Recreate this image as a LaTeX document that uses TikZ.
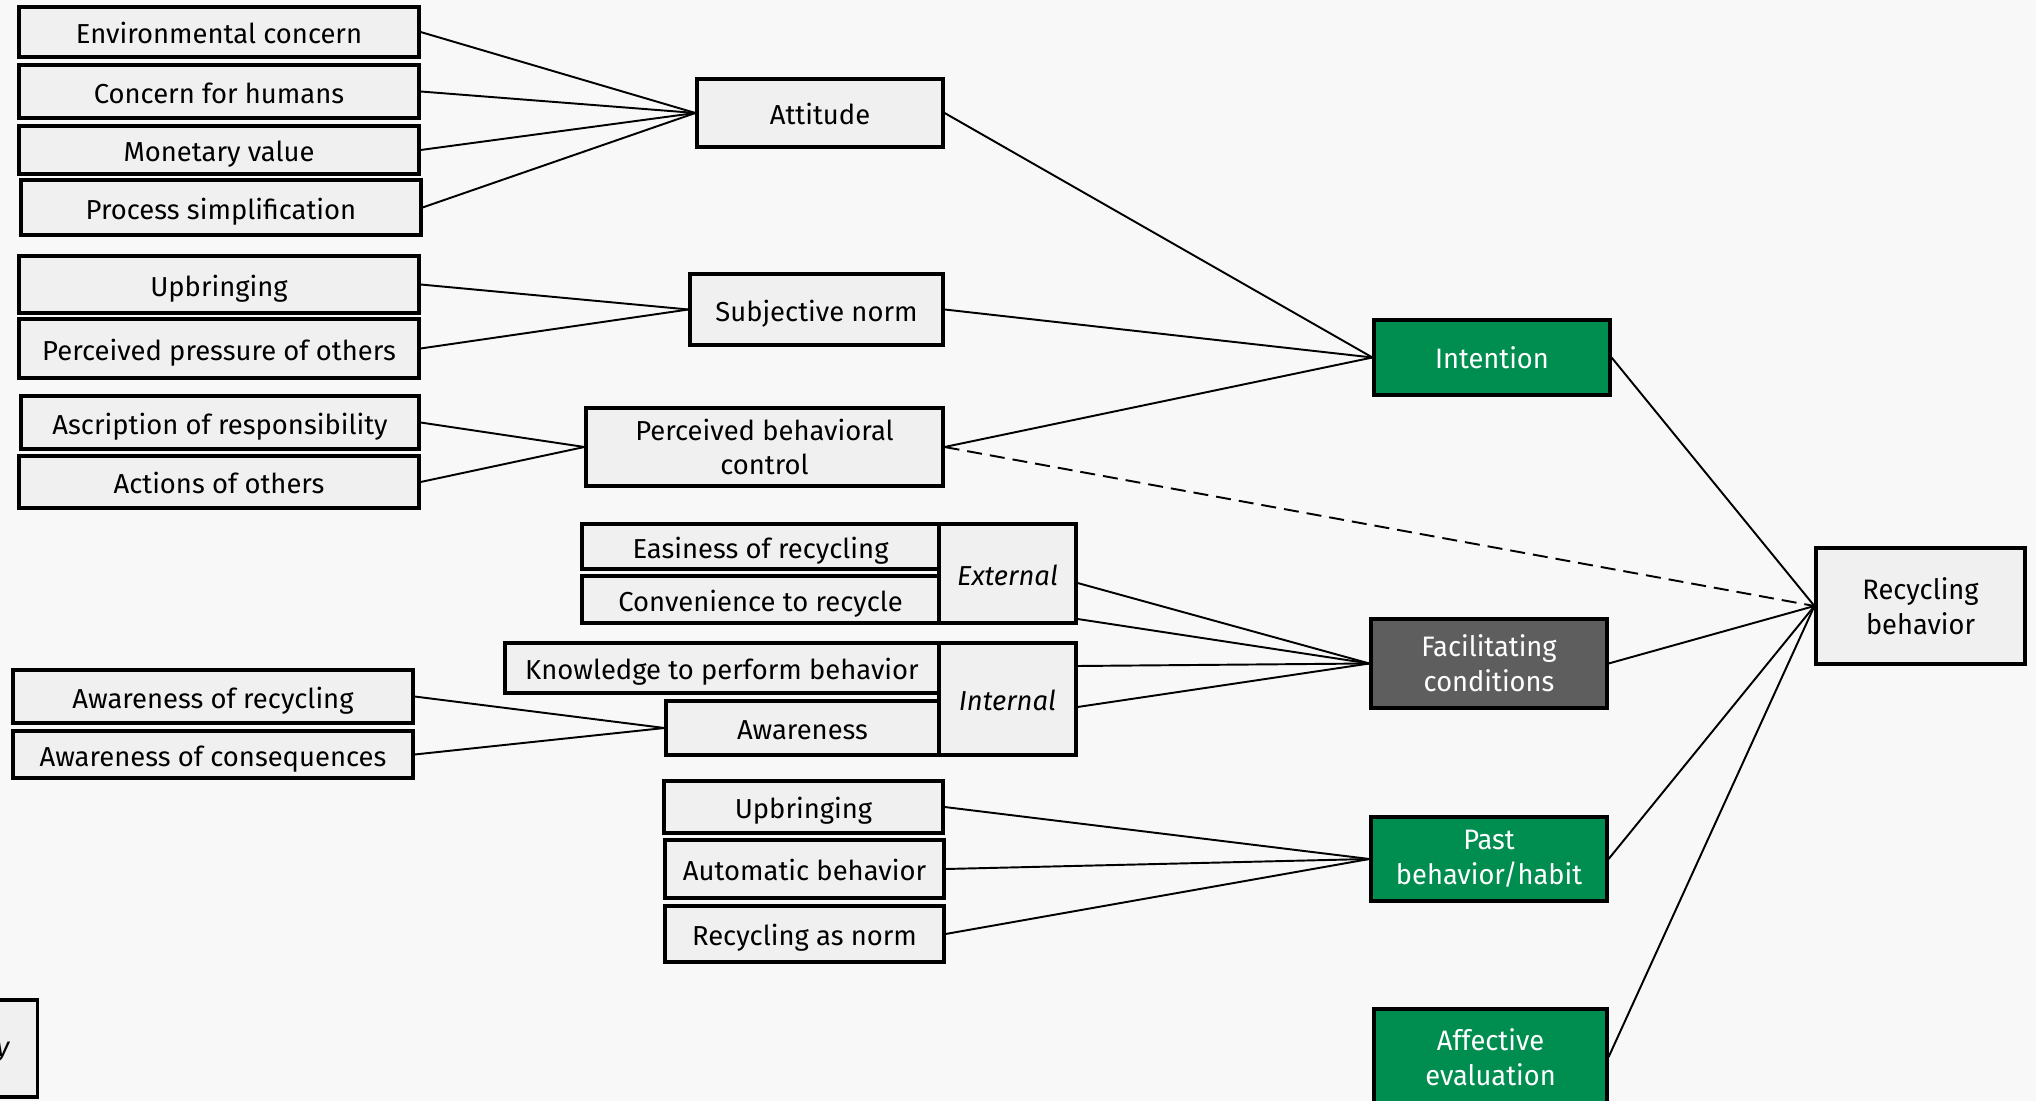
\documentclass[tikz,border=0pt]{standalone}
\usepackage{fontspec}
\setmainfont{Fira Sans}
\newfontfamily\narrowfont[FakeStretch=0.97]{Fira Sans}
\definecolor{bggray}{HTML}{F8F8F8}
\definecolor{boxgray}{HTML}{F0F0F0}
\definecolor{pathgreen}{HTML}{008D50}
\definecolor{facgray}{HTML}{5E5E5E}

\begin{document}
\begin{tikzpicture}[
    item/.style={draw, line width=0.9pt, fill=boxgray, inner sep=0pt, align=center,
        text height=6.6pt, text depth=0pt, font=\fontsize{7.8}{9.9}\selectfont},
    twoline/.style={text height=, text depth=},
    cond/.style={item, twoline, font=\narrowfont\fontsize{8}{9.9}\selectfont},
    construct/.style={cond, fill=pathgreen, text=white},
    link/.style={line width=0.55pt}
]
    \useasboundingbox (0,0) rectangle (20.36,-11.01);
    \clip (0,0) rectangle (20.36,-11.01);
    \fill[bggray] (0,0) rectangle (20.36,-11.01);

    % left column
    \node[item, minimum width=4cm, minimum height=0.5cm] (env) at (2.19,-0.32) {Environmental concern};
    \node[item, minimum width=4cm, minimum height=0.53cm] (hum) at (2.19,-0.915) {Concern for humans};
    \node[item, minimum width=4cm, minimum height=0.48cm] (mon) at (2.19,-1.5) {Monetary value};
    \node[item, minimum width=4cm, minimum height=0.55cm] (proc) at (2.21,-2.075) {Process simplification};
    \node[item, minimum width=4cm, minimum height=0.57cm] (upb) at (2.19,-2.845) {Upbringing};
    \node[item, minimum width=4cm, minimum height=0.59cm] (press) at (2.19,-3.485) {Perceived pressure of others};
    \node[item, minimum width=3.98cm, minimum height=0.53cm] (ascr) at (2.2,-4.225) {Ascription of responsibility};
    \node[item, minimum width=4cm, minimum height=0.52cm] (act) at (2.19,-4.82) {Actions of others};
    \node[item, minimum width=4cm, minimum height=0.53cm] (awrec) at (2.13,-6.965) {Awareness of recycling};
    \node[item, minimum width=4cm, minimum height=0.47cm] (awcon) at (2.13,-7.545) {Awareness of consequences};
    \node[item, minimum width=2cm, minimum height=0.97cm, anchor=east] (legend) at (0.39,-10.485) {};
    \node[anchor=base east, inner sep=0pt, font=\fontsize{7.8}{9.9}\selectfont] (legendtxt) at (0.11,-10.56) {\textit{y}};

    % middle column
    \node[item, minimum width=2.46cm, minimum height=0.68cm] (att) at (8.2,-1.13) {Attitude};
    \node[item, minimum width=2.53cm, minimum height=0.71cm] (subj) at (8.165,-3.095) {Subjective norm};
    \node[item, twoline, minimum width=3.57cm, minimum height=0.78cm] (pbc) at (7.645,-4.47) {Perceived behavioral\\control};
    \node[item, minimum width=3.57cm, minimum height=0.45cm] (eas) at (7.605,-5.465) {Easiness of recycling};
    \node[item, minimum width=3.57cm, minimum height=0.47cm] (conv) at (7.605,-5.995) {Convenience to recycle};
    \node[item, minimum width=1.37cm, minimum height=0.99cm] (ext) at (10.075,-5.735) {\textit{External}};
    \node[item, minimum width=4.34cm, minimum height=0.5cm] (know) at (7.22,-6.68) {Knowledge to perform behavior};
    \node[item, minimum width=2.73cm, minimum height=0.54cm] (awar) at (8.025,-7.28) {Awareness};
    \node[item, minimum width=1.37cm, minimum height=1.12cm] (int) at (10.075,-6.99) {\textit{Internal}};
    \node[item, minimum width=2.79cm, minimum height=0.52cm] (upbb) at (8.035,-8.07) {Upbringing};
    \node[item, minimum width=2.79cm, minimum height=0.58cm] (auto) at (8.045,-8.69) {Automatic behavior};
    \node[item, minimum width=2.79cm, minimum height=0.56cm] (norm) at (8.045,-9.34) {Recycling as norm};

    % right column
    \node[construct, minimum width=2.36cm, minimum height=0.75cm] (inten) at (14.92,-3.575) {Intention};
    \node[cond, fill=facgray, text=white, minimum width=2.36cm, minimum height=0.89cm] (fac) at (14.89,-6.635) {Facilitating\\conditions};
    \node[construct, minimum width=2.36cm, minimum height=0.84cm] (past) at (14.89,-8.59) {Past\\behavior/habit};
    \node[construct, minimum width=2.33cm, minimum height=0.96cm] (aff) at (14.905,-10.57) {Affective\\evaluation};
    \node[cond, minimum width=2.09cm, minimum height=1.16cm] (rec) at (19.205,-6.06) {Recycling\\behavior};

    \foreach \src in {env,hum,mon,proc}
        \draw[link] (\src.east) -- (att.west);
    \foreach \src in {upb,press}
        \draw[link] (\src.east) -- (subj.west);
    \foreach \src in {ascr,act}
        \draw[link] (\src.east) -- (pbc.west);
    \foreach \src in {awrec,awcon}
        \draw[link] (\src.east) -- (awar.west);
    \foreach \src in {upbb,auto,norm}
        \draw[link] (\src.east) -- (past.west);
    \foreach \src in {att,subj,pbc}
        \draw[link] (\src.east) -- (inten.west);
    \draw[link] ([yshift=-0.095cm]ext.east) -- (fac.west);
    \draw[link] ([yshift=-0.455cm]ext.east) -- (fac.west);
    \draw[link] ([yshift=0.33cm]int.east) -- (fac.west);
    \draw[link] ([yshift=-0.08cm]int.east) -- (fac.west);
    \foreach \src in {inten,fac,past,aff}
        \draw[link] (\src.east) -- (rec.west);
    \draw[link, dash pattern=on 0.15cm off 0.08cm] (pbc.east) -- (rec.west);
\end{tikzpicture}
\end{document}
